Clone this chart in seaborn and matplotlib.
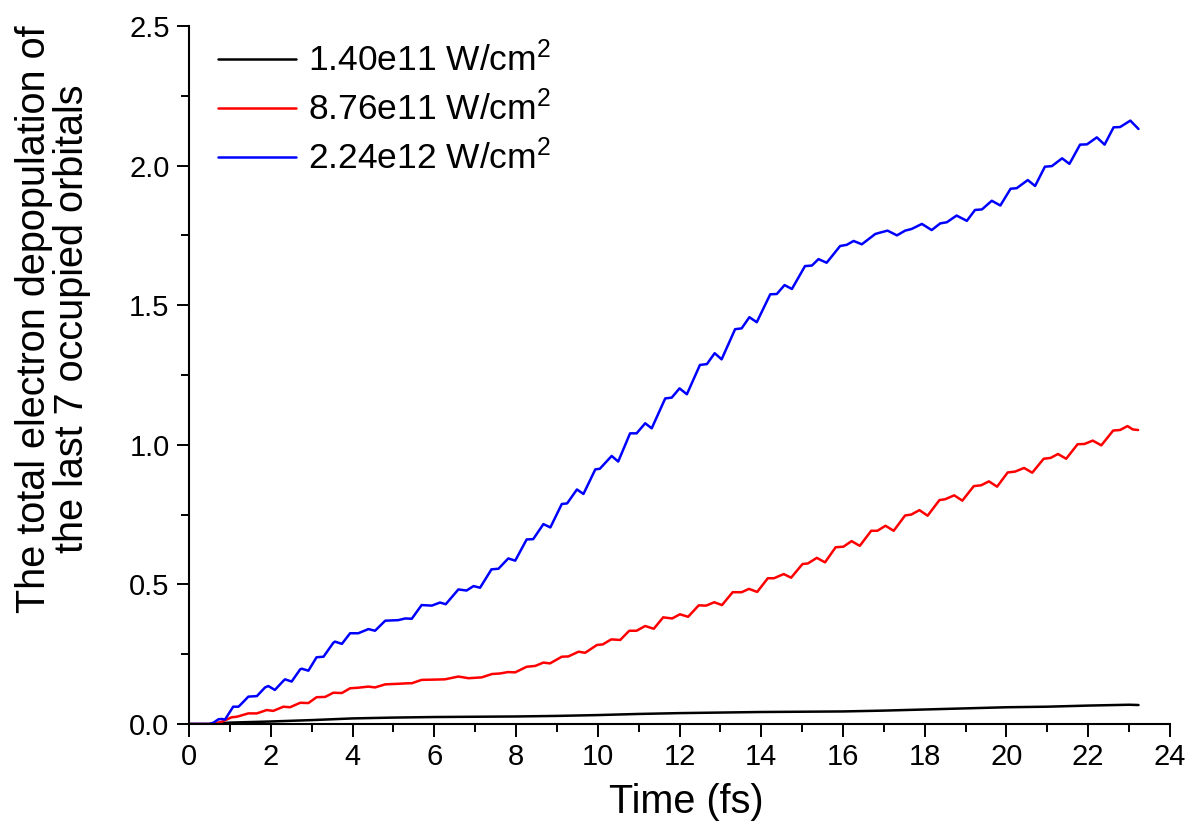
import matplotlib
matplotlib.use("Agg")
import matplotlib.pyplot as plt
from matplotlib.ticker import MultipleLocator, FormatStrFormatter
import seaborn as sns
import pandas as pd

# Time (fs) and depopulation for each laser intensity
t_low = [0.0, 0.5, 1.0, 2.0, 3.0, 4.0, 5.0, 6.0, 7.0, 8.0, 9.0, 10.0, 11.0, 12.0,
         13.0, 14.0, 15.0, 16.0, 17.0, 18.0, 19.0, 20.0, 21.0, 22.0, 23.0, 23.23]
v_low = [0.0, 0.0, 0.005, 0.009, 0.014, 0.020, 0.023, 0.025, 0.026, 0.027, 0.029,
         0.032, 0.036, 0.039, 0.041, 0.043, 0.044, 0.045, 0.048, 0.052, 0.056,
         0.060, 0.062, 0.066, 0.069, 0.068]

t_mid = [0.0, 0.55, 0.8, 1.04, 1.17, 1.45, 1.66, 1.90, 2.06, 2.31, 2.47, 2.72, 2.92,
         3.12, 3.33, 3.53, 3.74, 3.94, 4.14, 4.39, 4.55, 4.80, 5.12, 5.37, 5.45,
         5.69, 6.00, 6.26, 6.59, 6.84, 7.16, 7.41, 7.61, 7.80, 7.98, 8.26, 8.47,
         8.67, 8.83, 9.12, 9.28, 9.53, 9.69, 9.98, 10.12, 10.33, 10.55, 10.77,
         10.95, 11.16, 11.37, 11.60, 11.82, 12.01, 12.21, 12.47, 12.65, 12.85,
         13.04, 13.30, 13.52, 13.70, 13.90, 14.16, 14.31, 14.55, 14.73, 15.01,
         15.14, 15.36, 15.56, 15.82, 16.01, 16.21, 16.41, 16.69, 16.84, 17.04,
         17.24, 17.52, 17.67, 17.87, 18.07, 18.36, 18.50, 18.72, 18.92, 19.20,
         19.38, 19.57, 19.77, 20.03, 20.21, 20.43, 20.63, 20.91, 21.08, 21.26,
         21.46, 21.74, 21.91, 22.11, 22.32, 22.61, 22.78, 22.96, 23.09, 23.22]
v_mid = [0.0, 0.0, 0.008, 0.024, 0.026, 0.038, 0.038, 0.050, 0.047, 0.062, 0.060,
         0.076, 0.075, 0.096, 0.097, 0.112, 0.111, 0.128, 0.130, 0.134, 0.131,
         0.142, 0.144, 0.146, 0.146, 0.158, 0.159, 0.160, 0.170, 0.164, 0.167,
         0.179, 0.181, 0.186, 0.185, 0.205, 0.208, 0.220, 0.217, 0.241, 0.242,
         0.259, 0.255, 0.283, 0.285, 0.303, 0.301, 0.334, 0.334, 0.351, 0.341,
         0.382, 0.378, 0.393, 0.384, 0.425, 0.424, 0.436, 0.426, 0.472, 0.472,
         0.484, 0.473, 0.522, 0.522, 0.537, 0.524, 0.573, 0.575, 0.595, 0.579,
         0.633, 0.635, 0.655, 0.638, 0.692, 0.692, 0.710, 0.692, 0.747, 0.750,
         0.766, 0.746, 0.802, 0.805, 0.819, 0.800, 0.852, 0.855, 0.869, 0.850,
         0.901, 0.904, 0.917, 0.900, 0.950, 0.953, 0.967, 0.950, 1.002, 1.003,
         1.015, 0.998, 1.051, 1.053, 1.067, 1.055, 1.053]

t_high = [0.0, 0.5, 0.6, 0.72, 0.8, 0.88, 1.08, 1.21, 1.30, 1.45, 1.66, 1.86, 1.94,
          2.10, 2.31, 2.35, 2.51, 2.72, 2.76, 2.92, 3.12, 3.29, 3.53, 3.57, 3.74,
          3.94, 4.14, 4.39, 4.55, 4.80, 5.12, 5.29, 5.45, 5.69, 5.94, 6.14, 6.28,
          6.59, 6.79, 6.96, 7.12, 7.40, 7.57, 7.81, 7.98, 8.26, 8.42, 8.67, 8.84,
          9.12, 9.25, 9.49, 9.65, 9.94, 10.05, 10.34, 10.50, 10.79, 10.95, 11.16,
          11.32, 11.65, 11.81, 12.00, 12.18, 12.50, 12.67, 12.86, 13.03, 13.36,
          13.52, 13.71, 13.89, 14.22, 14.38, 14.57, 14.75, 15.07, 15.24, 15.40,
          15.60, 15.93, 16.09, 16.26, 16.46, 16.79, 16.91, 17.09, 17.32, 17.52,
          17.68, 17.93, 18.17, 18.38, 18.54, 18.78, 19.03, 19.23, 19.40, 19.64,
          19.85, 20.10, 20.25, 20.52, 20.70, 20.94, 21.11, 21.36, 21.54, 21.80,
          21.97, 22.21, 22.40, 22.62, 22.78, 23.03, 23.23]
v_high = [0.0, 0.0, 0.005, 0.017, 0.018, 0.016, 0.062, 0.062, 0.075, 0.098, 0.100,
          0.131, 0.136, 0.122, 0.155, 0.160, 0.152, 0.196, 0.198, 0.191, 0.239,
          0.241, 0.291, 0.295, 0.287, 0.325, 0.325, 0.340, 0.334, 0.370, 0.372,
          0.378, 0.377, 0.426, 0.424, 0.435, 0.429, 0.482, 0.478, 0.494, 0.488,
          0.554, 0.556, 0.593, 0.585, 0.661, 0.662, 0.716, 0.704, 0.788, 0.790,
          0.840, 0.824, 0.912, 0.914, 0.960, 0.940, 1.041, 1.041, 1.077, 1.059,
          1.166, 1.169, 1.202, 1.181, 1.286, 1.289, 1.328, 1.306, 1.414, 1.417,
          1.457, 1.439, 1.539, 1.540, 1.572, 1.558, 1.640, 1.642, 1.665, 1.652,
          1.712, 1.716, 1.730, 1.718, 1.755, 1.760, 1.767, 1.750, 1.767, 1.773,
          1.791, 1.769, 1.793, 1.797, 1.821, 1.802, 1.841, 1.843, 1.874, 1.857,
          1.917, 1.919, 1.948, 1.927, 1.996, 1.998, 2.026, 2.006, 2.075, 2.076,
          2.101, 2.075, 2.137, 2.138, 2.161, 2.131]

labels = [r"1.40e11 W/cm$^2$", r"8.76e11 W/cm$^2$", r"2.24e12 W/cm$^2$"]
colors = ["#000000", "#FF0000", "#0000FF"]

frames = []
for t, v, lab in zip([t_low, t_mid, t_high], [v_low, v_mid, v_high], labels):
    frames.append(pd.DataFrame({"time": t, "value": v, "series": lab}))
df = pd.concat(frames, ignore_index=True)

sns.set_theme(style="ticks")
plt.rcParams["font.family"] = ["Liberation Sans", "DejaVu Sans"]
plt.rcParams["mathtext.fontset"] = "custom"
plt.rcParams["mathtext.rm"] = "Liberation Sans"
plt.rcParams["mathtext.it"] = "Liberation Sans:italic"
plt.rcParams["mathtext.bf"] = "Liberation Sans:bold"
plt.rcParams["text.color"] = "black"
plt.rcParams["axes.labelcolor"] = "black"
plt.rcParams["xtick.color"] = "black"
plt.rcParams["ytick.color"] = "black"

fig = plt.figure(figsize=(11.89, 8.32), dpi=100)
ax = fig.add_axes([0.159, 0.1298, 0.825, 0.839])

sns.lineplot(data=df, x="time", y="value", hue="series", hue_order=labels,
             palette=colors, sort=False, estimator=None, linewidth=1.8, ax=ax)
for line in ax.get_lines():
    line.set_solid_joinstyle("round")
    line.set_solid_capstyle("round")

ax.set_xlim(0, 24)
ax.set_ylim(0, 2.5)
ax.xaxis.set_major_locator(MultipleLocator(2))
ax.xaxis.set_minor_locator(MultipleLocator(1))
ax.yaxis.set_major_locator(MultipleLocator(0.5))
ax.yaxis.set_minor_locator(MultipleLocator(0.25))
ax.yaxis.set_major_formatter(FormatStrFormatter("%.1f"))

for side in ["top", "right"]:
    ax.spines[side].set_visible(False)
for side in ["left", "bottom"]:
    ax.spines[side].set_linewidth(1.5)
    ax.spines[side].set_color("black")

ax.tick_params(which="major", direction="out", length=9, width=1.4,
               labelsize=21, colors="black", pad=5)
ax.tick_params(which="minor", direction="out", length=5.5, width=1.4, colors="black")

ax.set_xlabel("Time (fs)", fontsize=28.5, color="black")
ax.set_ylabel("The total electron depopulation of\nthe last 7 occupied orbitals",
              fontsize=28.5, color="black", linespacing=1.0)
ax.xaxis.set_label_coords(0.507, -0.085)
ax.yaxis.set_label_coords(-0.1, 0.58)

leg = ax.legend(loc="upper left", bbox_to_anchor=(0.004, 1.013), frameon=False,
                fontsize=25.5, handlelength=2.2, handletextpad=0.35,
                labelspacing=0.35, borderaxespad=0.3)
for text in leg.get_texts():
    text.set_color("black")
for line in leg.get_lines():
    line.set_linewidth(1.8)

fig.savefig("out.png", dpi=100)
